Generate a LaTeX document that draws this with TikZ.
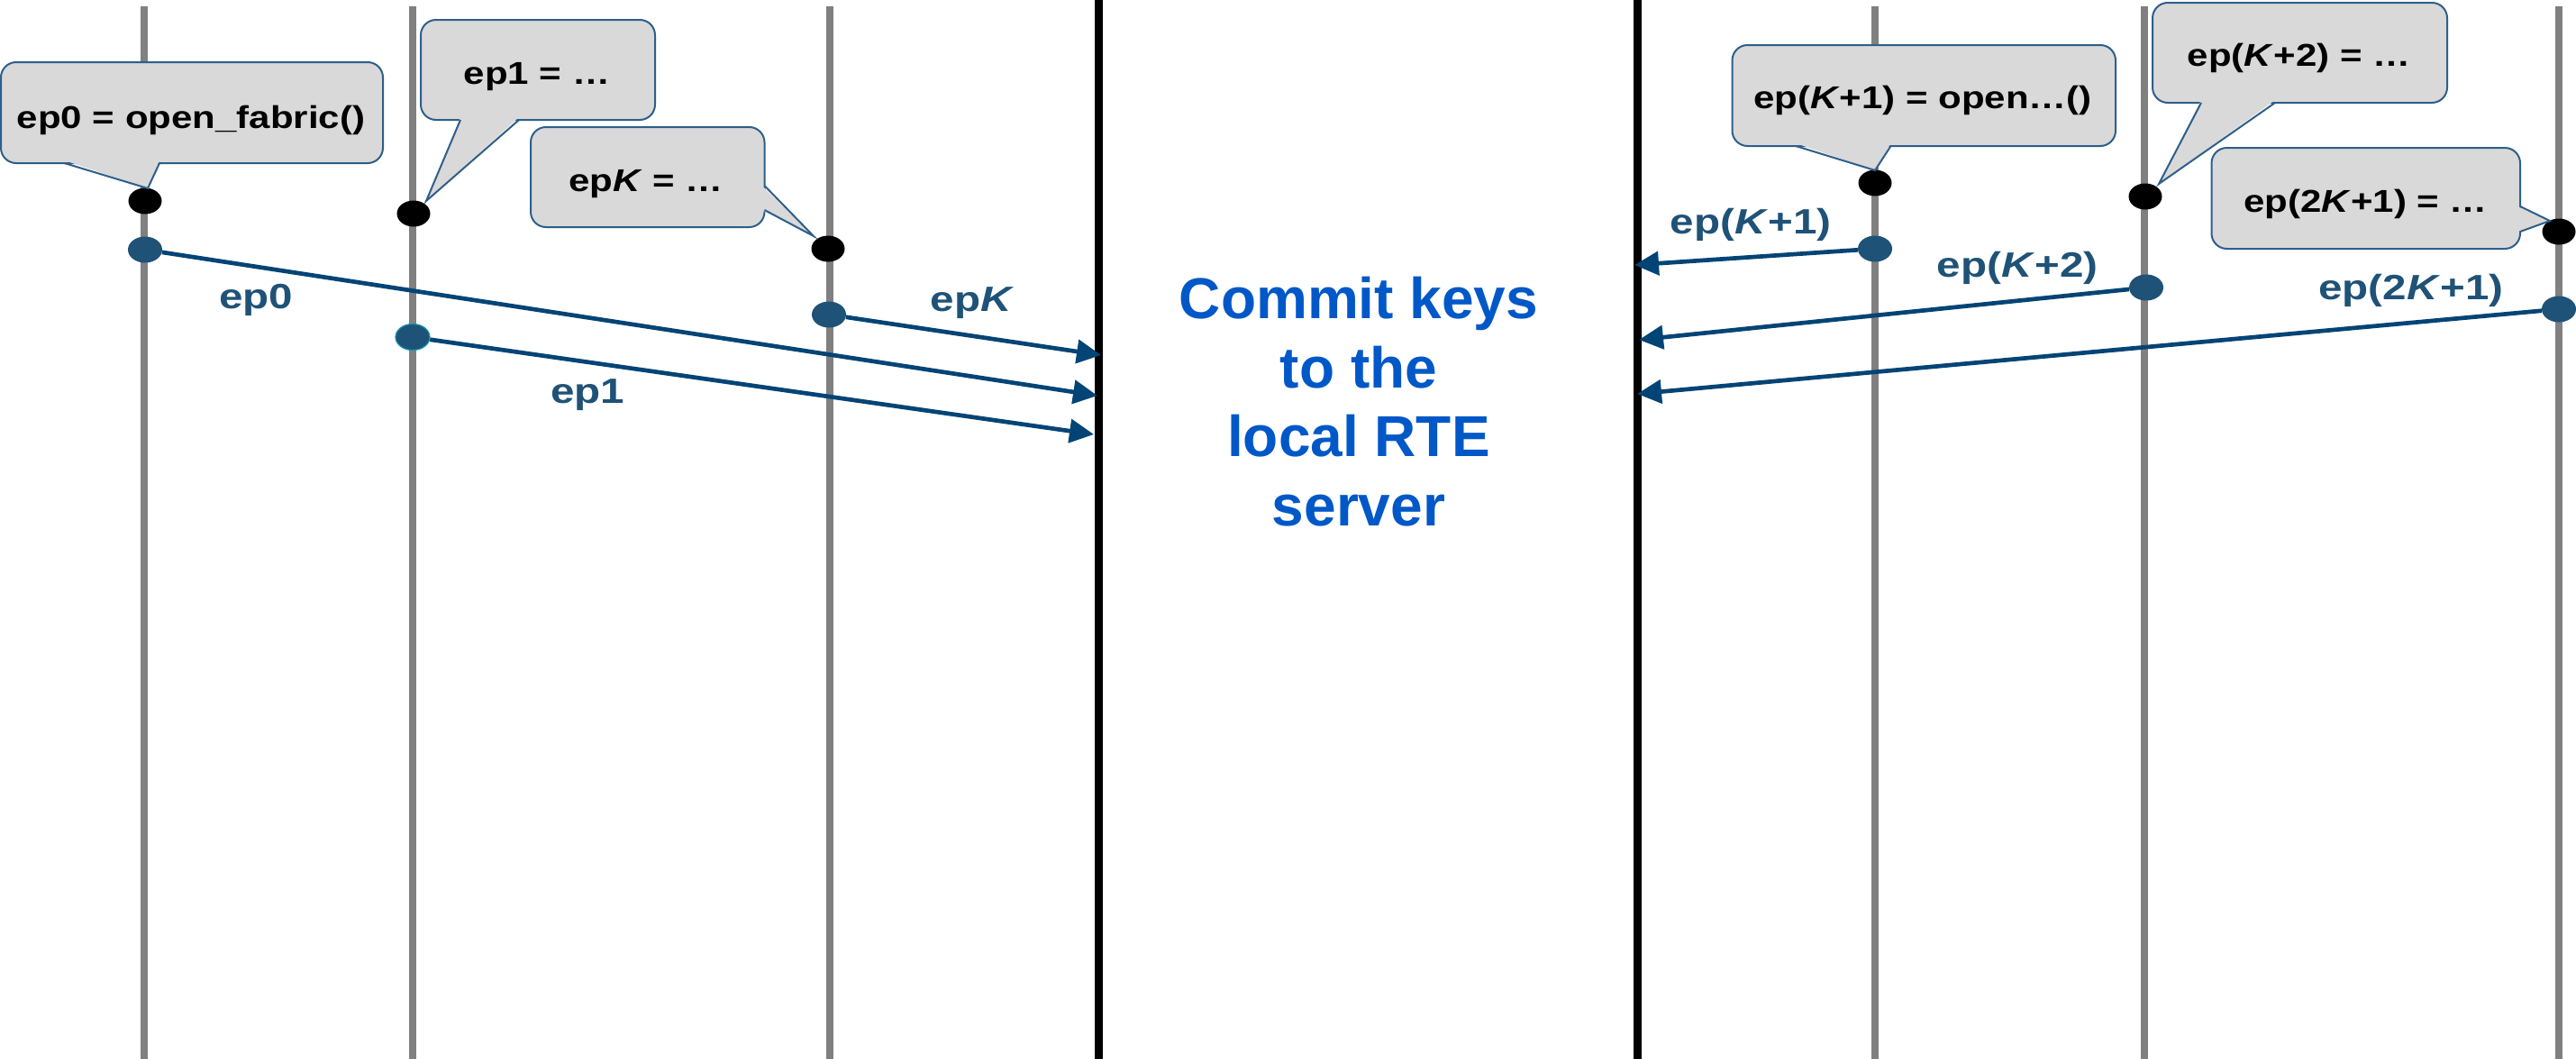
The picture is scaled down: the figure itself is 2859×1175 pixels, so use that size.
\documentclass[tikz,border=0pt]{standalone}
\usepackage{fontspec}
\setmainfont{Liberation Sans}
\newfontfamily\calloutfont[FakeStretch=1.2]{Liberation Sans}
\newfontfamily\labelfont[FakeStretch=1.22]{Liberation Sans}
\usetikzlibrary{arrows.meta,shapes.geometric}

\definecolor{lifegray}{HTML}{808080}
\definecolor{keyblue}{HTML}{1F5277}
\definecolor{arrowblue}{HTML}{034476}
\definecolor{calloutfill}{HTML}{D9D9D9}
\definecolor{calloutedge}{HTML}{2E5F8A}
\definecolor{serverblue}{HTML}{0058C8}

\begin{document}
\begin{tikzpicture}[x=1pt,y=-1pt,
  lifeline/.style={draw=lifegray,line width=8.5pt},
  serverline/.style={draw=black,line width=9pt},
  opendot/.style={ellipse,fill=black,minimum width=37pt,minimum height=29pt,inner sep=0pt},
  keydot/.style={ellipse,fill=keyblue,minimum width=38pt,minimum height=29pt,inner sep=0pt},
  sendarrow/.style={draw=arrowblue,line width=4.7pt,-{Triangle[length=27pt,width=26pt]}},
  calloutbox/.style={fill=calloutfill,draw=calloutedge,line width=2pt,rounded corners=17pt},
  pointerfill/.style={fill=calloutfill},
  pointeredge/.style={draw=calloutedge,line width=2pt},
  callouttext/.style={font=\calloutfont\bfseries\fontsize{35}{42}\selectfont,text=black,inner sep=0pt,anchor=base},
  eplabel/.style={font=\labelfont\bfseries\fontsize{39}{47}\selectfont,text=keyblue,inner sep=0pt,anchor=base},
  servertext/.style={font=\bfseries\fontsize{64}{76.4}\selectfont,text=serverblue,align=center,inner sep=0pt,anchor=base}]

\useasboundingbox (0,0) rectangle (2859,1175);
\fill[white] (0,0) rectangle (2859,1175);

% process lifelines and the two server boundaries
\foreach \x in {160,458,921,2081,2380,2840}
  \draw[lifeline] (\x,7) -- (\x,1175);
\draw[serverline] (1219,0) -- (1219,1175);
\draw[serverline] (1817,0) -- (1817,1175);

% endpoint creation events
\node[opendot] (b0)   at (161,223) {};
\node[opendot] (b1)   at (459,237) {};
\node[opendot] (bK)   at (919,276) {};
\node[opendot] (bK1)  at (2081,203) {};
\node[opendot] (bK2)  at (2381,218) {};
\node[opendot] (b2K1) at (2840,257) {};

% key publication events
\node[keydot] (k0)   at (161,277) {};
\node[keydot,draw=keyblue!60!cyan,line width=1.2pt] (k1) at (458,374) {};
\node[keydot] (kK)   at (920,349) {};
\node[keydot] (kK1)  at (2081,276) {};
\node[keydot] (kK2)  at (2382,319) {};
\node[keydot] (k2K1) at (2840,343) {};

% arrival points on the server boundaries
\coordinate (in0)   at (1218,439);
\coordinate (in1)   at (1214,482);
\coordinate (inK)   at (1222,394);
\coordinate (inK1)  at (1814,294);
\coordinate (inK2)  at (1819,377);
\coordinate (in2K1) at (1817,437);

\draw[sendarrow] (k0) -- (in0);
\draw[sendarrow] (k1) -- (in1);
\draw[sendarrow] (kK) -- (inK);
\draw[sendarrow] (kK1) -- (inK1);
\draw[sendarrow] (kK2) -- (inK2);
\draw[sendarrow] (k2K1) -- (in2K1);

% message labels
\node[eplabel] (l0)   at (284,342)  {ep0};
\node[eplabel] (l1)   at (652,447)  {ep1};
\node[eplabel] (lK)   at (1079,345) {ep\textit{K}};
\node[eplabel] (lK1)  at (1943,259) {ep(\textit{K}+1)};
\node[eplabel] (lK2)  at (2239,307) {ep(\textit{K}+2)};
\node[eplabel] (l2K1) at (2676,332) {ep(2\textit{K}+1)};

% callouts: pointer below the box
\draw[calloutbox] (1,69) rectangle (425,181);
\fill[pointerfill] (71.5,178) -- (177,178) -- (164,209) -- cycle;
\draw[pointeredge] (71.5,181) -- (164,209) -- (177,181);
\node[callouttext] (t0) at (212,142) {ep0 = open\_fabric()};

\draw[calloutbox] (467,22) rectangle (727,133);
\fill[pointerfill] (511,130) -- (576,130) -- (473,223) -- cycle;
\draw[pointeredge] (511,133) -- (473,223) -- (576,133);
\node[callouttext] (t1) at (596,93) {ep1 = …};

\draw[calloutbox] (1922.5,50) rectangle (2348,162);
\fill[pointerfill] (1993,159) -- (2098.5,159) -- (2081,189) -- cycle;
\draw[pointeredge] (1993,162) -- (2081,189) -- (2098.5,162);
\node[callouttext] (t3) at (2134,120) {ep(\textit{K}+1) = open…()};

\draw[calloutbox] (2389,3) rectangle (2716,114);
\fill[pointerfill] (2443,111) -- (2525,111) -- (2396,204) -- cycle;
\draw[pointeredge] (2443,114) -- (2396,204) -- (2525,114);
\node[callouttext] (t4) at (2551.5,73) {ep(\textit{K}+2) = …};

% callouts: pointer on the right side of the box
\draw[calloutbox] (589,141) rectangle (848.5,252);
\fill[pointerfill] (845.5,206) -- (845.5,233) -- (903,262) -- cycle;
\draw[pointeredge] (848.5,206) -- (903,262) -- (848.5,233);
\node[callouttext] (t2) at (717,212) {ep\textit{K} = …};

\draw[calloutbox] (2454.5,164) rectangle (2797,276);
\fill[pointerfill] (2794,229) -- (2794,257) -- (2830,245) -- cycle;
\draw[pointeredge] (2797,229) -- (2830,245) -- (2797,257);
\node[callouttext] (t5) at (2625.5,235) {ep(2\textit{K}+1) = …};

% server caption (base anchor sits on the last line)
\node[servertext] (srv) at (1508,583) {Commit keys\\to the\\local RTE\\server};
\end{tikzpicture}
\end{document}
